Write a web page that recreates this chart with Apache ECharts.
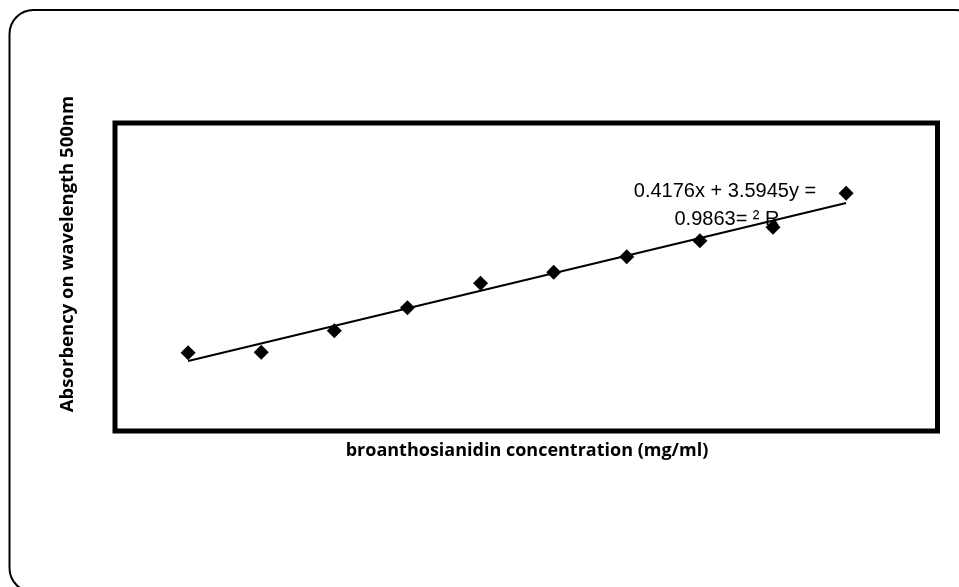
<!DOCTYPE html>
<html>
<head>
<meta charset="utf-8">
<script src="https://cdn.jsdelivr.net/npm/echarts@6/dist/echarts.min.js"></script>
<style>
  html, body { margin: 0; padding: 0; background: #fff; }
  #chart { width: 959px; height: 587px; }
</style>
</head>
<body>
<div id="chart"></div>
<script>
var concentration = [1, 2, 3, 4, 5, 6, 7, 8, 9, 10];
var absorbency = [4.21, 4.22, 4.73, 5.28, 5.86, 6.12, 6.49, 6.87, 7.19, 8.00];

// linear trend as printed on the chart
var trendCoef = [0.4176, 3.5945]; // slope, intercept
var trendX = [1, 10];
var eqLines = ['0.4176x + 3.5945y =', '0.9863= \u00b2 R'];

var xTitle = 'broanthosianidin concentration (mg/ml)';
var yTitle = 'Absorbency on wavelength 500nm';

var chart = echarts.init(document.getElementById('chart'), null, { renderer: 'canvas' });

var points = concentration.map(function(c, i) { return [c, absorbency[i]]; });
var trend = trendX.map(function(x) { return [x, trendCoef[0] * x + trendCoef[1]]; });

chart.setOption({
  animation: false,
  backgroundColor: '#fff',
  grid: {
    show: true,
    left: 115, top: 123, width: 822.5, height: 308,
    borderColor: '#000', borderWidth: 5, backgroundColor: 'transparent'
  },
  xAxis: {
    type: 'value', min: 0, max: 11.25,
    axisLine: { show: false }, axisTick: { show: false },
    axisLabel: { show: false }, splitLine: { show: false }
  },
  yAxis: {
    type: 'value', min: 2.35, max: 9.67,
    axisLine: { show: false }, axisTick: { show: false },
    axisLabel: { show: false }, splitLine: { show: false }
  },
  graphic: [
    {
      type: 'rect', silent: true,
      shape: { x: 9.5, y: 10, width: 970, height: 582, r: 24 },
      style: { fill: 'none', stroke: '#000', lineWidth: 2 }
    },
    {
      type: 'text', x: 527, y: 451,
      style: {
        text: xTitle, fill: '#000', align: 'center', verticalAlign: 'middle',
        font: 'bold 18px "Open Sans", sans-serif'
      }
    },
    {
      type: 'text', x: 68, y: 254, rotation: Math.PI / 2,
      style: {
        text: yTitle, fill: '#000', align: 'center', verticalAlign: 'middle',
        font: 'bold 18.5px "Open Sans", sans-serif'
      }
    },
    {
      type: 'text', x: 725, y: 191,
      style: {
        text: eqLines[0], fill: '#000', align: 'center', verticalAlign: 'middle',
        font: '20px "Liberation Sans", Arial, sans-serif'
      }
    },
    {
      type: 'text', x: 727, y: 219,
      style: {
        text: eqLines[1], fill: '#000', align: 'center', verticalAlign: 'middle',
        font: '20px "Liberation Sans", Arial, sans-serif'
      }
    }
  ],
  series: [
    {
      type: 'line',
      data: trend,
      symbol: 'none',
      lineStyle: { color: '#000', width: 2 },
      z: 2,
      silent: true
    },
    {
      type: 'scatter',
      data: points,
      symbol: 'diamond',
      symbolSize: [15, 15],
      itemStyle: { color: '#000', opacity: 1 },
      z: 3,
      silent: true
    }
  ]
});
window.addEventListener('resize', function() { chart.resize(); });
</script>
</body>
</html>
